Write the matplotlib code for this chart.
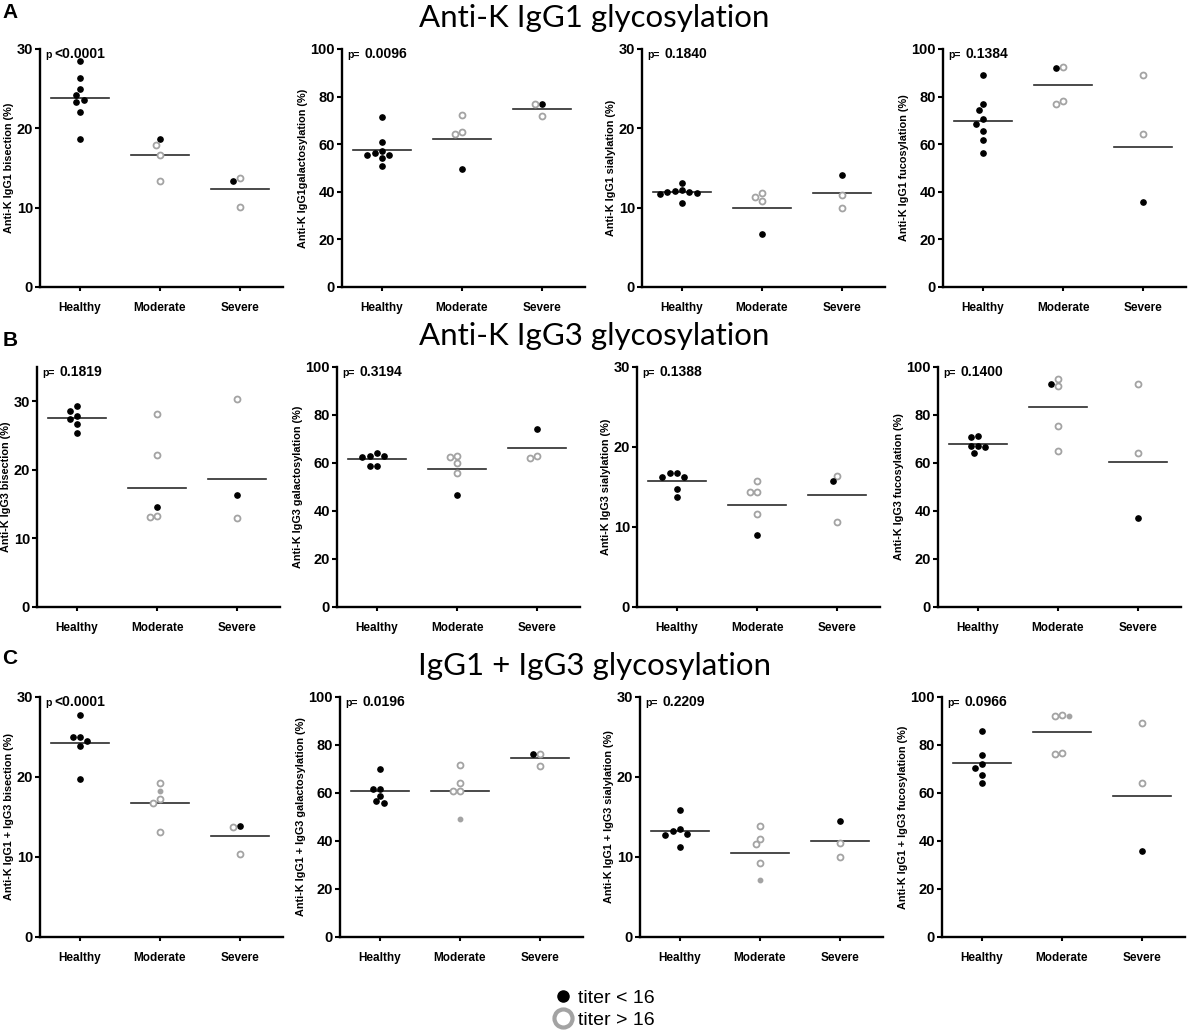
import matplotlib
matplotlib.use('Agg')
import matplotlib.pyplot as plt
from matplotlib.lines import Line2D
import numpy as np

plt.rcParams['font.family'] = ['Liberation Sans', 'DejaVu Sans']

groups = ['Healthy', 'Moderate', 'Severe']

# titer code per point: 0 = titer < 16 (black), 1 = titer > 16 (grey ring), 2 = small grey dot
# ---- A: anti-K IgG1
A_bis = [[28.5, 26.3, 25.0, 24.2, 23.6, 23.3, 22.1, 18.7], [18.7, 17.9, 16.7, 13.4], [13.8, 13.4, 10.1]]
A_bis_t = [[0, 0, 0, 0, 0, 0, 0, 0], [0, 1, 1, 1], [1, 0, 1]]
A_bis_line = [23.8, 16.6, 12.3]

A_gal = [[71.5, 61.0, 57.0, 56.3, 55.5, 55.5, 54.1, 50.9], [72.4, 65.1, 64.4, 49.7], [77.0, 77.0, 71.7]]
A_gal_t = [[0, 0, 0, 0, 0, 0, 0, 0], [1, 1, 1, 0], [0, 1, 1]]
A_gal_line = [57.7, 62.3, 75.0]

A_sia = [[13.1, 12.2, 12.1, 12.0, 12.0, 11.9, 11.7, 10.6], [11.8, 11.4, 10.9, 6.7], [14.1, 11.6, 10.0]]
A_sia_t = [[0, 0, 0, 0, 0, 0, 0, 0], [1, 1, 1, 0], [0, 1, 1]]
A_sia_line = [12.0, 9.9, 11.8]

A_fuc = [[89.2, 77.1, 74.4, 70.6, 68.5, 65.7, 61.8, 56.1], [92.6, 91.9, 78.1, 77.1], [89.2, 64.3, 35.6]]
A_fuc_t = [[0, 0, 0, 0, 0, 0, 0, 0], [1, 0, 1, 1], [1, 1, 0]]
A_fuc_line = [69.9, 84.7, 58.8]

# ---- B: anti-K IgG3
B_bis = [[29.3, 28.6, 27.8, 27.4, 26.7, 25.4], [28.2, 22.1, 14.6, 13.3, 13.1], [30.4, 16.3, 13.0]]
B_bis_t = [[0, 0, 0, 0, 0, 0], [1, 1, 0, 1, 1], [1, 0, 1]]
B_bis_line = [27.5, 17.4, 18.6]

B_gal = [[64.2, 63.1, 63.1, 62.3, 58.8, 58.8], [63.1, 62.7, 60.0, 55.7, 46.7], [74.1, 63.0, 62.1]]
B_gal_t = [[0, 0, 0, 0, 0, 0], [1, 1, 1, 1, 0], [0, 1, 1]]
B_gal_line = [61.7, 57.4, 66.2]

B_sia = [[16.8, 16.7, 16.2, 16.2, 14.7, 13.8], [15.8, 14.4, 14.4, 11.6, 9.0], [16.4, 15.7, 10.6]]
B_sia_t = [[0, 0, 0, 0, 0, 0], [1, 1, 1, 1, 0], [1, 0, 1]]
B_sia_line = [15.7, 12.8, 14.0]

B_fuc = [[71.3, 70.8, 66.9, 66.9, 66.5, 64.2], [95.1, 93.1, 92.2, 75.4, 65.0], [92.9, 64.0, 37.1]]
B_fuc_t = [[0, 0, 0, 0, 0, 0], [1, 0, 1, 1, 1], [1, 1, 0]]
B_fuc_line = [67.8, 83.2, 60.4]

# ---- C: IgG1 + IgG3
C_bis = [[27.7, 25.0, 25.0, 24.5, 23.9, 19.8], [19.2, 18.3, 17.2, 16.8, 13.1], [13.9, 13.7, 10.4]]
C_bis_t = [[0, 0, 0, 0, 0, 0], [1, 2, 1, 1, 1], [0, 1, 1]]
C_bis_line = [24.2, 16.8, 12.6]

C_gal = [[70.1, 61.8, 61.7, 58.8, 56.5, 55.8], [71.7, 64.0, 60.7, 60.7, 49.2], [76.4, 76.1, 71.1]]
C_gal_t = [[0, 0, 0, 0, 0, 0], [1, 1, 1, 1, 2], [1, 0, 1]]
C_gal_line = [60.7, 60.8, 74.4]

C_sia = [[15.9, 13.5, 13.3, 12.9, 12.7, 11.2], [13.9, 12.3, 11.6, 9.3, 7.1], [14.5, 11.8, 10.0]]
C_sia_t = [[0, 0, 0, 0, 0, 0], [1, 1, 1, 1, 2], [0, 1, 1]]
C_sia_line = [13.2, 10.5, 12.0]

C_fuc = [[86.0, 75.8, 72.2, 70.6, 67.6, 64.3], [92.5, 92.2, 91.9, 76.8, 76.2], [89.0, 64.0, 35.7]]
C_fuc_t = [[0, 0, 0, 0, 0, 0], [1, 1, 2, 1, 1], [1, 1, 0]]
C_fuc_line = [72.5, 85.6, 58.8]

p_values = [['<0.0001', '0.0096', '0.1840', '0.1384'],
            ['0.1819', '0.3194', '0.1388', '0.1400'],
            ['<0.0001', '0.0196', '0.2209', '0.0966']]

row_titles = ['Anti-K IgG1 glycosylation', 'Anti-K IgG3 glycosylation', 'IgG1 + IgG3 glycosylation']
row_letters = ['A', 'B', 'C']

ylabels = [['Anti-K IgG1 bisection (%)', 'Anti-K IgG1galactosylation (%)',
            'Anti-K IgG1 sialylation (%)', 'Anti-K IgG1 fucosylation (%)'],
           ['Anti-K IgG3 bisection (%)', 'Anti-K IgG3 galactosylation (%)',
            'Anti-K IgG3 sialylation (%)', 'Anti-K IgG3 fucosylation (%)'],
           ['Anti-K IgG1 + IgG3 bisection (%)', 'Anti-K IgG1 + IgG3 galactosylation (%)',
            'Anti-K IgG1 + IgG3 sialylation (%)', 'Anti-K IgG1 + IgG3 fucosylation (%)']]

panels = [[(A_bis, A_bis_t, A_bis_line), (A_gal, A_gal_t, A_gal_line),
           (A_sia, A_sia_t, A_sia_line), (A_fuc, A_fuc_t, A_fuc_line)],
          [(B_bis, B_bis_t, B_bis_line), (B_gal, B_gal_t, B_gal_line),
           (B_sia, B_sia_t, B_sia_line), (B_fuc, B_fuc_t, B_fuc_line)],
          [(C_bis, C_bis_t, C_bis_line), (C_gal, C_gal_t, C_gal_line),
           (C_sia, C_sia_t, C_sia_line), (C_fuc, C_fuc_t, C_fuc_line)]]

W, H = 1188, 1036
GREY = '#a3a3a3'

# layout in pixels
row_top = [49, 367, 697]
row_bottom = [287, 607, 937]
row_lefts = [[40, 342, 642, 943], [37, 337, 637, 938], [40, 340, 640, 942]]
ax_w = 243
cat_px = 80.0


def swarm(vals, ymax, h_px, step=7.3):
    # simple beeswarm: shift points sideways in half steps until no overlap
    placed = []
    offs = []
    for v in vals:
        y = v / ymax * h_px
        k = 0
        while True:
            for sgn in ([0] if k == 0 else [-1, 1]):
                x = sgn * k * step / 2
                if all((x - px) ** 2 + (y - py) ** 2 >= (step * 0.9) ** 2 for px, py in placed):
                    break
            else:
                k += 1
                continue
            break
        placed.append((x, y))
        offs.append(x / cat_px)
    return offs


fig = plt.figure(figsize=(W / 100, H / 100), dpi=100)

for r in range(3):
    for c in range(4):
        vals, tit, line = panels[r][c]
        left = row_lefts[r][c]
        top, bottom = row_top[r], row_bottom[r]
        ax = fig.add_axes([left / W, 1 - bottom / H, ax_w / W, (bottom - top) / H])
        if c in (0, 2):
            ymax = 35 if (r == 1 and c == 0) else 30
            ticks = [0, 10, 20, 30]
        else:
            ymax = 100
            ticks = [0, 20, 40, 60, 80, 100]
        h_px = bottom - top
        for g in range(3):
            offs = swarm(vals[g], ymax, h_px)
            for v, t, o in zip(vals[g], tit[g], offs):
                if t == 0:
                    ax.plot(g + o, v, 'o', color='black', ms=3.8, zorder=3, clip_on=False)
                elif t == 1:
                    ax.plot(g + o, v, 'o', mfc='white', mec=GREY, mew=1.3, ms=4.3, zorder=3, clip_on=False)
                else:
                    ax.plot(g + o, v, 'o', color=GREY, ms=3.2, zorder=3, clip_on=False)
            ax.plot([g - 0.36, g + 0.36], [line[g], line[g]], color='#2b2b2b', lw=1.2, zorder=2)
        ax.set_xlim(-0.5, -0.5 + ax_w / cat_px)
        ax.set_ylim(0, ymax)
        ax.set_yticks(ticks)
        ax.set_xticks(range(3))
        ax.set_xticklabels(groups, fontsize=8.5, fontweight='bold')
        for lab in ax.get_yticklabels():
            lab.set_fontsize(10.5)
            lab.set_fontweight('bold')
        ax.spines['top'].set_visible(False)
        ax.spines['right'].set_visible(False)
        ax.spines['left'].set_linewidth(1.7)
        ax.spines['bottom'].set_linewidth(1.7)
        ax.tick_params(axis='y', direction='out', length=3.5, width=1.5, pad=1.5)
        ax.tick_params(axis='x', direction='out', length=3, width=1.5, pad=8)
        ax.set_ylabel(ylabels[r][c], fontsize=7.8, fontweight='bold', labelpad=2)

        # p value: small "p" part then bold number
        pv = p_values[r][c]
        if pv.startswith('<'):
            small, big, dx = 'p', pv, 10
        else:
            small, big, dx = 'p=', pv, 16
        ax.annotate(small, xy=(0, 1), xycoords='axes fraction', xytext=(3.5, -0.5),
                    textcoords='offset points', va='top', ha='left', fontsize=7.5, fontweight='bold')
        ax.annotate(big, xy=(0, 1), xycoords='axes fraction', xytext=(dx, 1.5),
                    textcoords='offset points', va='top', ha='left', fontsize=10, fontweight='bold')

title_y = [18, 336, 666]
letter_y = [12, 341, 659]
for r in range(3):
    fig.text(0.5, 1 - title_y[r] / H, row_titles[r], ha='center', va='center',
             fontsize=22.5, family=['Lato', 'DejaVu Sans'])
    fig.text(10 / W, 1 - letter_y[r] / H, row_letters[r], ha='center', va='center',
             fontsize=15, fontweight='bold')

handles = [Line2D([], [], marker='o', ls='', color='black', ms=8),
           Line2D([], [], marker='o', ls='', mfc='white', mec=GREY, mew=3, ms=13)]
fig.legend(handles, ['titer < 16', 'titer > 16'], loc='center',
           bbox_to_anchor=(603 / W, 1 - 1009 / H), frameon=False, fontsize=14,
           handletextpad=0.2, labelspacing=0.25, handlelength=1.2, borderpad=0)

fig.savefig('out.png', dpi=100)
